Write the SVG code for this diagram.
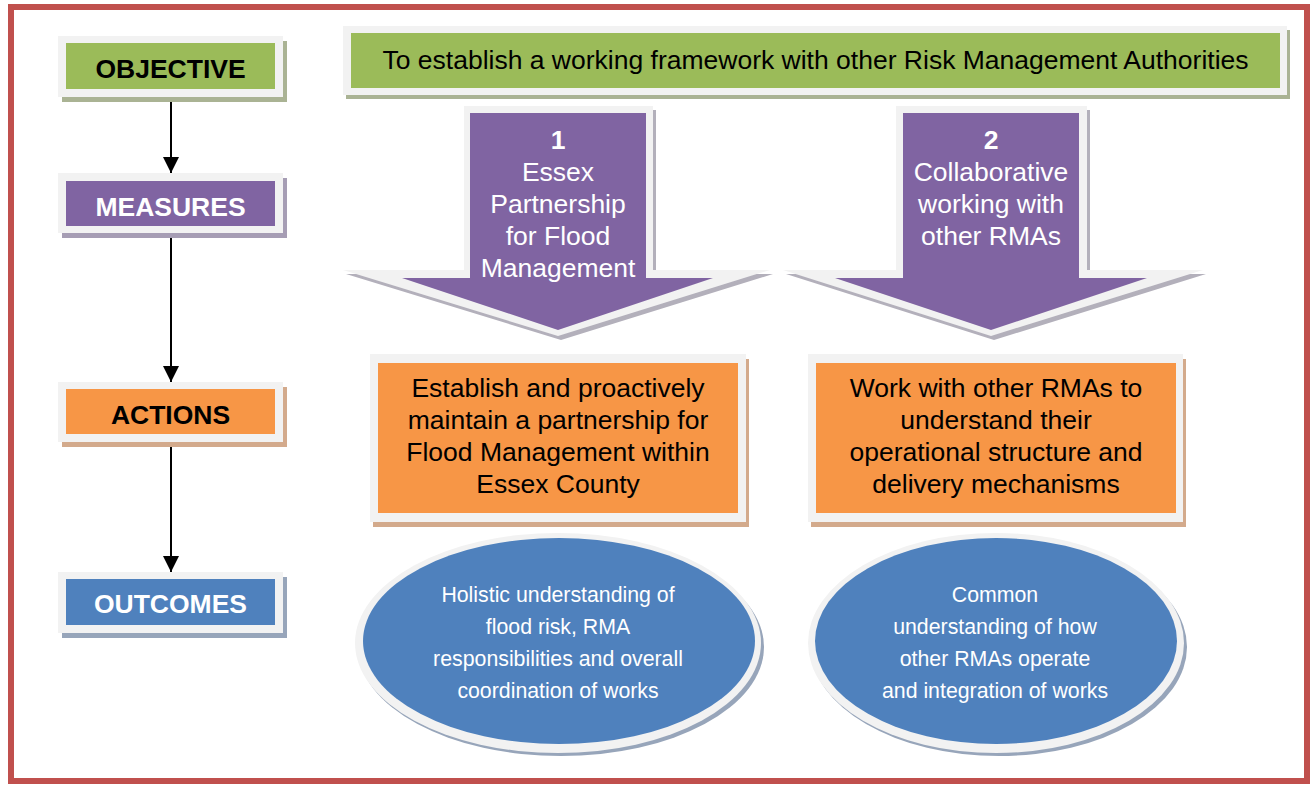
<svg xmlns="http://www.w3.org/2000/svg" width="1311" height="785" viewBox="0 0 1311 785">
<defs>
<style>
.frame{fill:#f2f2f2}
.lbl{font-family:"Liberation Sans",Arial,sans-serif;font-size:26.5px;font-weight:bold;text-anchor:middle}
.txt{font-family:"Liberation Sans",Arial,sans-serif;font-size:26.5px;text-anchor:middle}
.small{font-family:"Liberation Sans",Arial,sans-serif;font-size:21.3px;text-anchor:middle;fill:#ffffff}
.green{fill:#9bbb59}
.purple{fill:#8064a2}
.orange{fill:#f79646}
.blue{fill:#4f81bd}
.shg{fill:#aab394}
.shp{fill:#a69db4}
.sho{fill:#d3aa8c}
.shb{fill:#97a5ba}
.sha{fill:#b3b0bb}
.conn{stroke:#000000;stroke-width:2;fill:none}
</style>
<marker id="ah" viewBox="0 0 16 16" refX="16" refY="8" markerWidth="16" markerHeight="16" markerUnits="userSpaceOnUse" orient="auto">
<path d="M0,0 L16,8 L0,16 z" fill="#000000"/>
</marker>
</defs>
<rect x="0" y="0" width="1311" height="785" fill="#ffffff"/>
<rect x="11" y="7" width="1296" height="774" fill="none" stroke="#c0504d" stroke-width="6"/>

<g id="connectors">
<line class="conn" x1="171" y1="97" x2="171" y2="173" marker-end="url(#ah)"/>
<line class="conn" x1="171" y1="233" x2="171" y2="382" marker-end="url(#ah)"/>
<line class="conn" x1="171" y1="442" x2="171" y2="572" marker-end="url(#ah)"/>
</g>

<g id="label-objective">
<rect class="shg" x="62" y="41" width="225" height="61"/>
<rect class="frame" x="58" y="36" width="225" height="61"/>
<rect class="green" x="66" y="43" width="209" height="46"/>
<text class="lbl" x="170.5" y="78" fill="#000000">OBJECTIVE</text>
</g>

<g id="label-measures">
<rect class="shp" x="62" y="178" width="225" height="60"/>
<rect class="frame" x="58" y="173" width="225" height="60"/>
<rect class="purple" x="66" y="181" width="209" height="45"/>
<text class="lbl" x="170.5" y="216" fill="#ffffff">MEASURES</text>
</g>

<g id="label-actions">
<rect class="sho" x="62" y="387" width="225" height="60"/>
<rect class="frame" x="58" y="382" width="225" height="60"/>
<rect class="orange" x="66" y="389" width="209" height="45"/>
<text class="lbl" x="170.5" y="424" fill="#000000">ACTIONS</text>
</g>

<g id="label-outcomes">
<rect class="shb" x="62" y="577" width="225" height="61"/>
<rect class="frame" x="58" y="572" width="225" height="61"/>
<rect class="blue" x="66" y="579" width="209" height="46"/>
<text class="lbl" x="170.5" y="613" fill="#ffffff">OUTCOMES</text>
</g>

<g id="objective">
<rect class="shg" x="346" y="30" width="944" height="69"/>
<rect class="frame" x="343" y="26" width="944" height="69"/>
<rect class="green" x="351" y="33" width="929" height="55"/>
<text class="txt" x="815.5" y="69" fill="#000000">To establish a working framework with other Risk Management Authorities</text>
</g>

<g id="measure-1">
<polygon class="sha" points="467,110 656,110 656,274 773,274 561,340 346,274 467,274"/>
<polygon class="frame" points="464,106 653,106 653,270 770,270 558,336 343,270 464,270"/>
<polygon class="purple" points="470,113 646,113 646,278 713,278 558,330 402,278 470,278"/>
<text class="lbl" x="558" y="149" fill="#ffffff">1</text>
<text class="txt" fill="#ffffff"><tspan x="558" y="181">Essex</tspan><tspan x="558" y="213">Partnership</tspan><tspan x="558" y="245">for Flood</tspan><tspan x="558" y="277">Management</tspan></text>
</g>

<g id="measure-2">
<polygon class="sha" points="899,110 1090,110 1090,274 1206,274 994,340 786,274 899,274"/>
<polygon class="frame" points="896,106 1087,106 1087,270 1203,270 991,336 783,270 896,270"/>
<polygon class="purple" points="903,113 1079,113 1079,278 1147,278 991,330 835,278 903,278"/>
<text class="lbl" x="991" y="149" fill="#ffffff">2</text>
<text class="txt" fill="#ffffff"><tspan x="991" y="181">Collaborative</tspan><tspan x="991" y="213">working with</tspan><tspan x="991" y="245">other RMAs</tspan></text>
</g>

<g id="action-1">
<rect class="sho" x="373" y="359" width="376" height="168"/>
<rect class="frame" x="370" y="354" width="376" height="168"/>
<rect class="orange" x="378" y="363" width="360" height="150"/>
<text class="txt" fill="#000000"><tspan x="558" y="397">Establish and proactively</tspan><tspan x="558" y="429">maintain a partnership for</tspan><tspan x="558" y="461">Flood Management within</tspan><tspan x="558" y="493">Essex County</tspan></text>
</g>

<g id="action-2">
<rect class="sho" x="811" y="359" width="375" height="168"/>
<rect class="frame" x="808" y="354" width="375" height="168"/>
<rect class="orange" x="816" y="363" width="360" height="150"/>
<text class="txt" fill="#000000"><tspan x="996" y="397">Work with other RMAs to</tspan><tspan x="996" y="429">understand their</tspan><tspan x="996" y="461">operational structure and</tspan><tspan x="996" y="493">delivery mechanisms</tspan></text>
</g>

<g id="outcome-1">
<ellipse class="shb" cx="561" cy="647" rx="203" ry="109"/>
<ellipse class="frame" cx="558" cy="643" rx="203" ry="110"/>
<ellipse class="blue" cx="559" cy="641" rx="196" ry="103"/>
<text class="small"><tspan x="558" y="602">Holistic understanding of</tspan><tspan x="558" y="634">flood risk, RMA</tspan><tspan x="558" y="666">responsibilities and overall</tspan><tspan x="558" y="698">coordination of works</tspan></text>
</g>

<g id="outcome-2">
<ellipse class="shb" cx="999" cy="647" rx="188" ry="109"/>
<ellipse class="frame" cx="996" cy="643" rx="188" ry="110"/>
<ellipse class="blue" cx="996" cy="641" rx="181" ry="103"/>
<text class="small"><tspan x="995" y="602">Common</tspan><tspan x="995" y="634">understanding of how</tspan><tspan x="995" y="666">other RMAs operate</tspan><tspan x="995" y="698">and integration of works</tspan></text>
</g>
</svg>
